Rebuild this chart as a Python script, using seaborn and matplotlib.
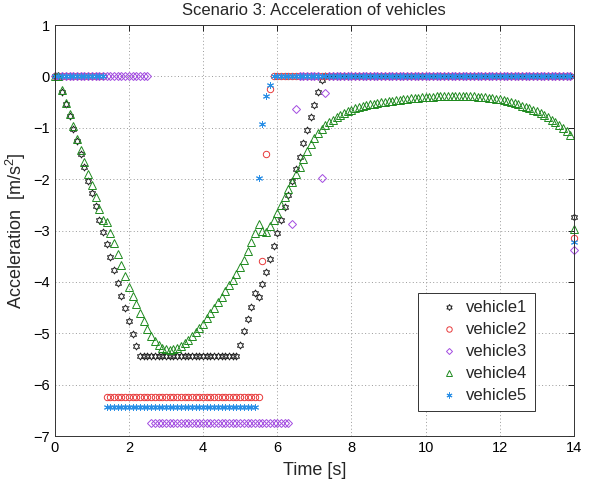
import matplotlib
matplotlib.use("Agg")
import matplotlib.pyplot as plt
from matplotlib.path import Path
import numpy as np
import seaborn as sns

# ---------------- data ----------------
time = [
    0.0, 0.1, 0.2, 0.3, 0.4, 0.5, 0.6, 0.7, 0.8, 0.9,
    1.0, 1.1, 1.2, 1.3, 1.4, 1.5, 1.6, 1.7, 1.8, 1.9,
    2.0, 2.1, 2.2, 2.3, 2.4, 2.5, 2.6, 2.7, 2.8, 2.9,
    3.0, 3.1, 3.2, 3.3, 3.4, 3.5, 3.6, 3.7, 3.8, 3.9,
    4.0, 4.1, 4.2, 4.3, 4.4, 4.5, 4.6, 4.7, 4.8, 4.9,
    5.0, 5.1, 5.2, 5.3, 5.4, 5.5, 5.6, 5.7, 5.8, 5.9,
    6.0, 6.1, 6.2, 6.3, 6.4, 6.5, 6.6, 6.7, 6.8, 6.9,
    7.0, 7.1, 7.2, 7.3, 7.4, 7.5, 7.6, 7.7, 7.8, 7.9,
    8.0, 8.1, 8.2, 8.3, 8.4, 8.5, 8.6, 8.7, 8.8, 8.9,
    9.0, 9.1, 9.2, 9.3, 9.4, 9.5, 9.6, 9.7, 9.8, 9.9,
    10.0, 10.1, 10.2, 10.3, 10.4, 10.5, 10.6, 10.7, 10.8, 10.9,
    11.0, 11.1, 11.2, 11.3, 11.4, 11.5, 11.6, 11.7, 11.8, 11.9,
    12.0, 12.1, 12.2, 12.3, 12.4, 12.5, 12.6, 12.7, 12.8, 12.9,
    13.0, 13.1, 13.2, 13.3, 13.4, 13.5, 13.6, 13.7, 13.8, 13.9,
    14.0,
]

vehicle1 = [
    0.0, 0.0, -0.31, -0.53, -0.77, -1.02, -1.26, -1.52, -1.77, -2.03,
    -2.27, -2.53, -2.79, -3.03, -3.27, -3.52, -3.76, -4.02, -4.27, -4.51,
    -4.77, -5.01, -5.25, -5.45, -5.45, -5.45, -5.45, -5.45, -5.45, -5.45,
    -5.45, -5.45, -5.45, -5.45, -5.45, -5.45, -5.45, -5.45, -5.45, -5.45,
    -5.45, -5.45, -5.45, -5.45, -5.45, -5.45, -5.45, -5.45, -5.45, -5.45,
    -5.22, -4.96, -4.72, -4.48, -4.22, -4.30, -4.05, -3.81, -3.55, -3.30,
    -3.05, -2.80, -2.55, -2.30, -2.04, -1.80, -1.56, -1.30, -1.05, -0.80,
    -0.55, -0.31, -0.07, 0.0, 0.0, 0.0, 0.0, 0.0, 0.0, 0.0,
    0.0, 0.0, 0.0, 0.0, 0.0, 0.0, 0.0, 0.0, 0.0, 0.0,
    0.0, 0.0, 0.0, 0.0, 0.0, 0.0, 0.0, 0.0, 0.0, 0.0,
    0.0, 0.0, 0.0, 0.0, 0.0, 0.0, 0.0, 0.0, 0.0, 0.0,
    0.0, 0.0, 0.0, 0.0, 0.0, 0.0, 0.0, 0.0, 0.0, 0.0,
    0.0, 0.0, 0.0, 0.0, 0.0, 0.0, 0.0, 0.0, 0.0, 0.0,
    0.0, 0.0, 0.0, 0.0, 0.0, 0.0, 0.0, 0.0, 0.0, 0.0,
    -2.73,
]

vehicle2 = [
    0.0, 0.0, 0.0, 0.0, 0.0, 0.0, 0.0, 0.0, 0.0, 0.0,
    0.0, 0.0, 0.0, 0.0, -6.25, -6.25, -6.25, -6.25, -6.25, -6.25,
    -6.25, -6.25, -6.25, -6.25, -6.25, -6.25, -6.25, -6.25, -6.25, -6.25,
    -6.25, -6.25, -6.25, -6.25, -6.25, -6.25, -6.25, -6.25, -6.25, -6.25,
    -6.25, -6.25, -6.25, -6.25, -6.25, -6.25, -6.25, -6.25, -6.25, -6.25,
    -6.25, -6.25, -6.25, -6.25, -6.25, -6.25, -3.59, -1.51, -0.24, 0.0,
    0.0, 0.0, 0.0, 0.0, 0.0, 0.0, 0.0, 0.0, 0.0, 0.0,
    0.0, 0.0, 0.0, 0.0, 0.0, 0.0, 0.0, 0.0, 0.0, 0.0,
    0.0, 0.0, 0.0, 0.0, 0.0, 0.0, 0.0, 0.0, 0.0, 0.0,
    0.0, 0.0, 0.0, 0.0, 0.0, 0.0, 0.0, 0.0, 0.0, 0.0,
    0.0, 0.0, 0.0, 0.0, 0.0, 0.0, 0.0, 0.0, 0.0, 0.0,
    0.0, 0.0, 0.0, 0.0, 0.0, 0.0, 0.0, 0.0, 0.0, 0.0,
    0.0, 0.0, 0.0, 0.0, 0.0, 0.0, 0.0, 0.0, 0.0, 0.0,
    0.0, 0.0, 0.0, 0.0, 0.0, 0.0, 0.0, 0.0, 0.0, 0.0,
    -3.15,
]

vehicle3 = [
    0.0, 0.0, 0.0, 0.0, 0.0, 0.0, 0.0, 0.0, 0.0, 0.0,
    0.0, 0.0, 0.0, 0.0, 0.0, 0.0, 0.0, 0.0, 0.0, 0.0,
    0.0, 0.0, 0.0, 0.0, 0.0, 0.0, -6.75, -6.75, -6.75, -6.75,
    -6.75, -6.75, -6.75, -6.75, -6.75, -6.75, -6.75, -6.75, -6.75, -6.75,
    -6.75, -6.75, -6.75, -6.75, -6.75, -6.75, -6.75, -6.75, -6.75, -6.75,
    -6.75, -6.75, -6.75, -6.75, -6.75, -6.75, -6.75, -6.75, -6.75, -6.75,
    -6.75, -6.75, -6.75, -6.75, -2.87, -0.64, 0.0, 0.0, 0.0, 0.0,
    0.0, 0.0, -1.98, -0.32, 0.0, 0.0, 0.0, 0.0, 0.0, 0.0,
    0.0, 0.0, 0.0, 0.0, 0.0, 0.0, 0.0, 0.0, 0.0, 0.0,
    0.0, 0.0, 0.0, 0.0, 0.0, 0.0, 0.0, 0.0, 0.0, 0.0,
    0.0, 0.0, 0.0, 0.0, 0.0, 0.0, 0.0, 0.0, 0.0, 0.0,
    0.0, 0.0, 0.0, 0.0, 0.0, 0.0, 0.0, 0.0, 0.0, 0.0,
    0.0, 0.0, 0.0, 0.0, 0.0, 0.0, 0.0, 0.0, 0.0, 0.0,
    0.0, 0.0, 0.0, 0.0, 0.0, 0.0, 0.0, 0.0, 0.0, 0.0,
    -3.37,
]

vehicle4 = [
    0.0, 0.0, -0.27, -0.51, -0.74, -0.97, -1.21, -1.44, -1.67, -1.90,
    -2.12, -2.35, -2.58, -2.79, -2.84, -3.04, -3.24, -3.46, -3.67, -3.88,
    -4.09, -4.27, -4.44, -4.61, -4.77, -4.92, -5.05, -5.15, -5.23, -5.28,
    -5.31, -5.32, -5.31, -5.28, -5.24, -5.19, -5.13, -5.06, -4.98, -4.90,
    -4.81, -4.71, -4.61, -4.51, -4.40, -4.29, -4.18, -4.07, -3.96, -3.84,
    -3.71, -3.57, -3.40, -3.22, -3.04, -2.88, -3.00, -3.02, -2.92, -2.80,
    -2.66, -2.50, -2.35, -2.20, -2.05, -1.90, -1.76, -1.61, -1.45, -1.31,
    -1.20, -1.10, -1.02, -0.95, -0.89, -0.84, -0.80, -0.76, -0.72, -0.68,
    -0.65, -0.62, -0.60, -0.58, -0.56, -0.54, -0.53, -0.51, -0.50, -0.49,
    -0.48, -0.47, -0.46, -0.45, -0.44, -0.44, -0.43, -0.42, -0.42, -0.41,
    -0.41, -0.40, -0.40, -0.39, -0.39, -0.39, -0.38, -0.38, -0.38, -0.38,
    -0.38, -0.38, -0.39, -0.39, -0.40, -0.40, -0.41, -0.42, -0.43, -0.44,
    -0.44, -0.46, -0.48, -0.50, -0.52, -0.54, -0.57, -0.59, -0.62, -0.65,
    -0.68, -0.71, -0.75, -0.79, -0.84, -0.89, -0.94, -1.00, -1.07, -1.15,
    -2.98,
]

vehicle5 = [
    0.0, 0.0, 0.0, 0.0, 0.0, 0.0, 0.0, 0.0, 0.0, 0.0,
    0.0, 0.0, 0.0, 0.0, -6.44, -6.44, -6.44, -6.44, -6.44, -6.44,
    -6.44, -6.44, -6.44, -6.44, -6.44, -6.44, -6.44, -6.44, -6.44, -6.44,
    -6.44, -6.44, -6.44, -6.44, -6.44, -6.44, -6.44, -6.44, -6.44, -6.44,
    -6.44, -6.44, -6.44, -6.44, -6.44, -6.44, -6.44, -6.44, -6.44, -6.44,
    -6.44, -6.44, -6.44, -6.44, -6.44, -1.98, -0.92, -0.39, -0.16, 0.0,
    0.0, 0.0, 0.0, 0.0, 0.0, 0.0, 0.0, 0.0, 0.0, 0.0,
    0.0, 0.0, 0.0, 0.0, 0.0, 0.0, 0.0, 0.0, 0.0, 0.0,
    0.0, 0.0, 0.0, 0.0, 0.0, 0.0, 0.0, 0.0, 0.0, 0.0,
    0.0, 0.0, 0.0, 0.0, 0.0, 0.0, 0.0, 0.0, 0.0, 0.0,
    0.0, 0.0, 0.0, 0.0, 0.0, 0.0, 0.0, 0.0, 0.0, 0.0,
    0.0, 0.0, 0.0, 0.0, 0.0, 0.0, 0.0, 0.0, 0.0, 0.0,
    0.0, 0.0, 0.0, 0.0, 0.0, 0.0, 0.0, 0.0, 0.0, 0.0,
    0.0, 0.0, 0.0, 0.0, 0.0, 0.0, 0.0, 0.0, 0.0, 0.0,
    -3.23,
]

labels = ["vehicle1", "vehicle2", "vehicle3", "vehicle4", "vehicle5"]
x_ticks = [0, 2, 4, 6, 8, 10, 12, 14]
y_ticks = [-7, -6, -5, -4, -3, -2, -1, 0, 1]

# ---------------- styling ----------------
sns.set_style("white")
plt.rcParams["font.family"] = ["Liberation Sans", "DejaVu Sans"]
plt.rcParams["mathtext.fontset"] = "custom"
plt.rcParams["mathtext.rm"] = "Liberation Sans"
plt.rcParams["mathtext.it"] = "Liberation Sans"

# hexagram (six-pointed star) marker
verts = []
r_in = 1 / np.sqrt(3)
for k in range(6):
    a_out = np.deg2rad(90 + 60 * k)
    a_in = np.deg2rad(120 + 60 * k)
    verts.append((np.cos(a_out), np.sin(a_out)))
    verts.append((r_in * np.cos(a_in), r_in * np.sin(a_in)))
verts.append(verts[0])
hexagram = Path(verts, closed=True)

series = [vehicle1, vehicle2, vehicle3, vehicle4, vehicle5]
markers = [hexagram, "o", "D", "^", (6, 2, 0)]
colors = ["#1e1e1e", "#e8393a", "#a24be0", "#1f8a1f", "#2b8fe6"]
sizes = [5.0, 4.6, 3.6, 5.6, 5.0]

fig = plt.figure(figsize=(5.92, 4.82), dpi=100)
ax = fig.add_axes([0.0924, 0.0954, 0.8772, 0.8527])

for vals, m, c, s, lab in zip(series, markers, colors, sizes, labels):
    sns.lineplot(x=time, y=vals, ax=ax, marker=m, linestyle="", color=c,
                 markerfacecolor="none", markeredgecolor=c, markersize=s,
                 markeredgewidth=0.7, label=lab, sort=False, estimator=None,
                 clip_on=False)

ax.set_xlim(0, 14)
ax.set_ylim(-7, 1)
ax.set_xticks(x_ticks)
ax.set_yticks(y_ticks)
ax.grid(True, linestyle=(0, (1, 2.5)), color="#9a9a9a", linewidth=0.7)
ax.tick_params(direction="in", top=True, right=True, length=4, width=0.6,
               labelsize=10.5, colors="black")
for sp in ax.spines.values():
    sp.set_color("#333333")
    sp.set_linewidth(0.7)

ax.set_title("Scenario 3: Acceleration of vehicles", fontsize=12, pad=7)
ax.set_xlabel("Time [s]", fontsize=13, labelpad=5)
ax.set_ylabel("Acceleration  [m/s$^2$]", fontsize=13, labelpad=4)

leg = ax.legend(loc="upper left", bbox_to_anchor=(0.699, 0.348),
                fontsize=12, frameon=True, fancybox=False, framealpha=1,
                edgecolor="#333333", handlelength=2.9, handletextpad=-0.44,
                labelspacing=0.42, borderpad=0.45, borderaxespad=0.0,
                numpoints=1, markerscale=0.85)
leg.get_frame().set_linewidth(0.7)
leg.set_zorder(5)

fig.savefig("out.png", dpi=100, facecolor="white")
